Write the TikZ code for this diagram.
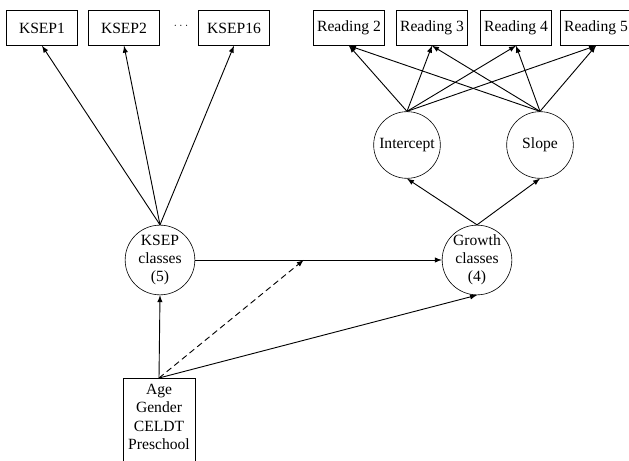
\documentclass[tikz,border=0pt]{standalone}
\usepackage{fontspec}
\setmainfont{Liberation Serif}
\usetikzlibrary{arrows, positioning, calc}

\begin{document}
\begin{tikzpicture}[x=0.66pt, y=-0.66pt, >=latex, font=\fontsize{10.3}{12}\selectfont,
	obs/.style={draw, minimum width=47pt, minimum height=23pt, inner sep=1pt},
	lat/.style={draw, circle, minimum size=46pt, inner sep=0pt, align=center},
	path/.style={->, semithick}]
	\clip (0,0) rectangle (629,461);
	% indicators of the KSEP classes
	\node[obs] (ksep1) at (42,28) {KSEP1};
	\node[obs] (ksep2) at (124,28) {KSEP2};
	\node (dots) at (181,26) {\scriptsize$\cdots$};
	\node[obs] (ksep16) at (234,28) {KSEP16};
	% reading scores
	\node[obs] (read2) at (349,28) {Reading 2};
	\node[obs] (read3) at (432,28) {Reading 3};
	\node[obs] (read4) at (516,28) {Reading 4};
	\node[obs] (read5) at (596,28) {Reading 5};
	% growth factors
	\node[lat, minimum size=44pt] (icpt) at (407,145) {Intercept};
	\node[lat, minimum size=44pt] (slope) at (540,145) {Slope};
	% latent classes
	\node[lat] (ksepc) at (160,260) {KSEP\\classes\\(5)};
	\node[lat] (growth) at (477,260) {Growth\\classes\\(4)};
	\coordinate (mod) at ($(ksepc.east)!0.44!(growth.west)$);
	% covariates
	\node[align=center, anchor=north, inner ysep=4pt, minimum width=47pt] (covar) at (159,378) {Age\\Gender\\CELDT\\Preschool};
	\draw ($(covar.north west)+(0,120)$) -- (covar.north west) -- (covar.north east) -- ++(0,120);

	\foreach \k in {ksep1,ksep2,ksep16}
		\draw[path] (ksepc.north) -- (\k.south);
	\foreach \r in {read2,read3,read4,read5}{
		\draw[path] (icpt.north) -- (\r.south);
		\draw[path] (slope.north) -- (\r.south);
	}
	\draw[path] (growth.north) -- (icpt.south);
	\draw[path] (growth.north) -- (slope.south);
	\draw[path] (ksepc.east) -- (growth.west);
	\draw[path] (covar.north) -- (ksepc.south);
	\draw[path] (covar.north) -- (growth.south);
	\draw[path, dash pattern=on 4pt off 2.5pt] (covar.north) -- (mod);
\end{tikzpicture}
\end{document}
